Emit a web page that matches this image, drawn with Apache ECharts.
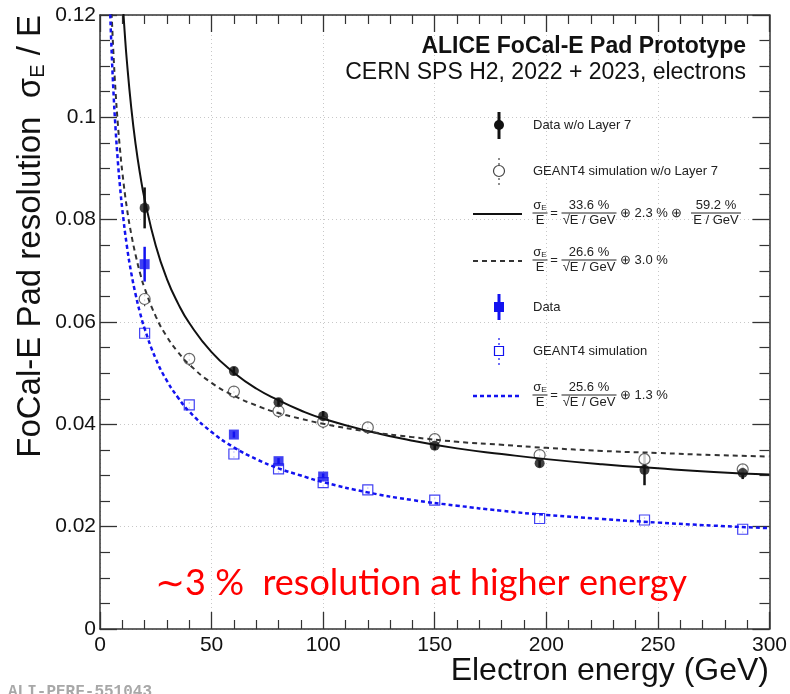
<!DOCTYPE html>
<html>
<head>
<meta charset="utf-8">
<title>FoCal-E resolution</title>
<script src="https://cdn.jsdelivr.net/npm/echarts@6.0.0/dist/echarts.min.js"></script>
<style>
    html, body { margin: 0; padding: 0; background: #fff; }
    #main { width: 790px; height: 694px; }
</style>
</head>
<body>
<div id="main"></div>
<script>
var dataEnergy = [20, 60, 80, 100, 150, 197, 244, 288];
var dataRes    = [0.0823, 0.0504, 0.0443, 0.0416, 0.0358, 0.0324, 0.0311, 0.0305];
var dataErr    = [0.0040, 0.0008, 0.0008, 0.0010, 0.0008, 0.0008, 0.0030, 0.0012];

var simEnergy  = [20, 40, 60, 80, 100, 120, 150, 197, 244, 288];
var simRes     = [0.0645, 0.0528, 0.0464, 0.0426, 0.0405, 0.0394, 0.0371, 0.0340, 0.0332, 0.0312];
var simErr     = [0.0014, 0.0014, 0.0013, 0.0013, 0.0013, 0.0013, 0.0013, 0.0013, 0.0013, 0.0013];

var blueDataEnergy = [20, 60, 80, 100];
var blueDataRes    = [0.0713, 0.0380, 0.0328, 0.0298];
var blueDataErr    = [0.0034, 0.0006, 0.0006, 0.0006];

var blueSimEnergy = [20, 40, 60, 80, 100, 120, 150, 197, 244, 288];
var blueSimRes    = [0.0578, 0.0438, 0.0342, 0.0313, 0.0286, 0.0272, 0.0252, 0.0216, 0.0213, 0.0195];
var blueSimErr    = [0.0008, 0.0008, 0.0008, 0.0008, 0.0008, 0.0008, 0.0008, 0.0008, 0.0008, 0.0008];

// fit curves, sampled off the figure
var fitDataE = [10.5, 11, 12, 14, 16, 18, 20, 25, 30, 35, 40, 50, 60, 70, 80, 90, 100, 120, 140, 160, 180, 200, 225, 250, 275, 300];
var fitDataY = [0.1203, 0.1170, 0.1112, 0.1019, 0.0946, 0.0888, 0.0840, 0.0749, 0.0684, 0.0636, 0.0598, 0.0541, 0.0501, 0.0470, 0.0447, 0.0427, 0.0411, 0.0387, 0.0368, 0.0353, 0.0342, 0.0332, 0.0322, 0.0314, 0.0307, 0.0302];

var fitSimE = [5.2, 6, 7, 8, 9, 10, 12, 14, 16, 18, 20, 25, 30, 35, 40, 50, 60, 70, 80, 90, 100, 120, 140, 160, 180, 200, 225, 250, 275, 300];
var fitSimY = [0.1204, 0.1127, 0.1049, 0.0987, 0.0936, 0.0893, 0.0824, 0.0772, 0.0730, 0.0695, 0.0666, 0.0611, 0.0571, 0.0541, 0.0517, 0.0481, 0.0456, 0.0437, 0.0422, 0.0411, 0.0401, 0.0386, 0.0375, 0.0366, 0.0360, 0.0354, 0.0348, 0.0344, 0.0340, 0.0337];

var fitBlueE = [4.6, 5, 6, 7, 8, 9, 10, 12, 14, 16, 18, 20, 25, 30, 35, 40, 50, 60, 70, 80, 90, 100, 120, 140, 160, 180, 200, 225, 250, 275, 300];
var fitBlueY = [0.1201, 0.1152, 0.1053, 0.0976, 0.0914, 0.0863, 0.0820, 0.0750, 0.0696, 0.0653, 0.0617, 0.0587, 0.0528, 0.0485, 0.0452, 0.0425, 0.0385, 0.0355, 0.0332, 0.0314, 0.0300, 0.0287, 0.0267, 0.0252, 0.0241, 0.0231, 0.0223, 0.0215, 0.0208, 0.0202, 0.0197];

var FONT = '"Liberation Sans", Arial, sans-serif';
var BLUE = '#1212f0';

function pairs(xs, ys) {
    return xs.map(function (x, i) { return [x, ys[i]]; });
}
function triples(xs, ys, es) {
    return xs.map(function (x, i) { return [x, ys[i], es[i]]; });
}

// vertical error bar through the axes
function errorBars(color, width, dash) {
    return function (params, api) {
        var x = api.value(0), y = api.value(1), e = api.value(2);
        var lo = api.coord([x, y - e]);
        var hi = api.coord([x, y + e]);
        return {
            type: 'line',
            shape: { x1: lo[0], y1: lo[1], x2: hi[0], y2: hi[1] },
            style: { stroke: color, lineWidth: width, lineDash: dash }
        };
    };
}

function txt(x, y, s, opts) {
    opts = opts || {};
    return {
        type: 'text', x: x, y: y, z: 100, rotation: opts.rotation || 0,
        style: {
            text: s,
            font: opts.font || ('13px ' + FONT),
            fill: opts.fill || '#222',
            align: opts.align || 'left',
            textAlign: opts.align || 'left',
            verticalAlign: opts.va || 'middle',
            textVerticalAlign: opts.va || 'middle',
            rich: opts.rich
        }
    };
}

function frac(cx, cy, num, den, w, numRich) {
    var f = '13px ' + FONT;
    return [
        txt(cx, cy - 1, num, { align: 'center', va: 'bottom', font: f, rich: numRich }),
        { type: 'line', z: 100, shape: { x1: cx - w / 2, y1: cy, x2: cx + w / 2, y2: cy }, style: { stroke: '#222', lineWidth: 1 } },
        txt(cx, cy + 1, den, { align: 'center', va: 'top', font: f })
    ];
}

var sigRich = {
    s: { fontSize: 13, fontFamily: 'Liberation Sans', fill: '#222' },
    sub: { fontSize: 8, fontFamily: 'Liberation Sans', fill: '#222', verticalAlign: 'bottom', padding: [6, 0, 0, 0] }
};

function formula(y, a, b, extra) {
    var els = [];
    els = els.concat(frac(540, y, '{s|σ}{sub|E}', 'E', 15, sigRich));
    els.push(txt(554, y, '=', { align: 'center' }));
    els = els.concat(frac(589, y, a, '√E / GeV', 55));
    els.push(txt(620, y, b));
    if (extra) {
        els = els.concat(frac(716, y, extra, 'E / GeV', 50));
    }
    return els;
}

var legendEls = [
    // Data w/o Layer 7
    { type: 'line', z: 100, shape: { x1: 499, y1: 112, x2: 499, y2: 139 }, style: { stroke: '#111', lineWidth: 3 } },
    { type: 'circle', z: 101, shape: { cx: 499, cy: 125, r: 5 }, style: { fill: '#111' } },
    txt(533, 125, 'Data w/o Layer 7'),
    // GEANT4 w/o Layer 7
    { type: 'line', z: 100, shape: { x1: 499, y1: 158, x2: 499, y2: 185 }, style: { stroke: '#444', lineWidth: 1.2, lineDash: [2, 3] } },
    { type: 'circle', z: 101, shape: { cx: 499, cy: 171, r: 5.5 }, style: { fill: '#fff', stroke: '#444', lineWidth: 1.2 } },
    txt(533, 171, 'GEANT4 simulation w/o Layer 7'),
    // solid fit
    { type: 'line', z: 100, shape: { x1: 473, y1: 214, x2: 522, y2: 214 }, style: { stroke: '#111', lineWidth: 2 } },
    // dashed fit
    { type: 'line', z: 100, shape: { x1: 473, y1: 261, x2: 522, y2: 261 }, style: { stroke: '#333', lineWidth: 2, lineDash: [5, 4] } },
    // Data
    { type: 'line', z: 100, shape: { x1: 499, y1: 294, x2: 499, y2: 320 }, style: { stroke: BLUE, lineWidth: 3 } },
    { type: 'rect', z: 101, shape: { x: 494, y: 302, width: 10, height: 10 }, style: { fill: BLUE } },
    txt(533, 307, 'Data'),
    // GEANT4 simulation
    { type: 'line', z: 100, shape: { x1: 499, y1: 338, x2: 499, y2: 365 }, style: { stroke: BLUE, lineWidth: 1.2, lineDash: [2, 3] } },
    { type: 'rect', z: 101, shape: { x: 494.5, y: 346.5, width: 9, height: 9 }, style: { fill: '#fff', stroke: BLUE, lineWidth: 1.2 } },
    txt(533, 351, 'GEANT4 simulation'),
    // blue dashed fit
    { type: 'line', z: 100, shape: { x1: 473, y1: 396, x2: 522, y2: 396 }, style: { stroke: BLUE, lineWidth: 2.5, lineDash: [4, 3] } }
]
    .concat(formula(213, '33.6 %', '⊕ 2.3 % ⊕', '59.2 %'))
    .concat(formula(260, '26.6 %', '⊕ 3.0 %'))
    .concat(formula(395, '25.6 %', '⊕ 1.3 %'));

var textEls = [
    txt(746, 47, 'ALICE FoCal-E Pad Prototype', { align: 'right', font: 'bold 23px ' + FONT, fill: '#111' }),
    txt(746, 73, 'CERN SPS H2, 2022 + 2023, electrons', { align: 'right', font: '23px ' + FONT, fill: '#111' }),
    txt(769, 671, 'Electron energy (GeV)', { align: 'right', font: '32px ' + FONT, fill: '#111' }),
    txt(31, 15, '{a|FoCal-E Pad resolution  σ}{b|E}{a| / E}', {
        align: 'right', rotation: Math.PI / 2, font: '33px ' + FONT, fill: '#111',
        rich: {
            a: { fontSize: 33, fontFamily: 'Liberation Sans', fill: '#111' },
            b: { fontSize: 20, fontFamily: 'Liberation Sans', fill: '#111', verticalAlign: 'bottom', padding: [15, 0, 0, 0] }
        }
    }),
    txt(421, 583, '∼3 %  resolution at higher energy', { align: 'center', font: '36px Lato, "Noto Sans", sans-serif', fill: '#ff0000' }),
    txt(8, 692, 'ALI-PERF-551043', { font: 'bold 16px "Liberation Mono", monospace', fill: '#a8a8a8' })
];

var chart = echarts.init(document.getElementById('main'));

var axisCommonX = {
    type: 'value', min: 0, max: 300, interval: 50,
    axisLine: { onZero: false, lineStyle: { color: '#333', width: 1.5 } },
    axisTick: { inside: true, length: 17, lineStyle: { color: '#333', width: 1.3 } },
    minorTick: { show: true, splitNumber: 5, length: 9, lineStyle: { color: '#333', width: 1.2 } }
};
var axisCommonY = {
    type: 'value', min: 0, max: 0.12, interval: 0.02,
    axisLine: { onZero: false, lineStyle: { color: '#333', width: 1.5 } },
    axisTick: { inside: true, length: 17, lineStyle: { color: '#333', width: 1.3 } },
    minorTick: { show: true, splitNumber: 4, length: 10, lineStyle: { color: '#333', width: 1.2 } }
};

var option = {
    animation: false,
    backgroundColor: '#fff',
    grid: { left: 100, right: 20, top: 15, bottom: 65 },
    xAxis: [
        $extend(axisCommonX, {
            position: 'bottom',
            axisLabel: { fontSize: 21, fontFamily: 'Liberation Sans', color: '#111', margin: 6 },
            splitLine: { show: true, lineStyle: { color: '#c8c8c8', type: [1, 3], width: 1 } }
        }),
        $extend(axisCommonX, {
            position: 'top',
            axisLabel: { show: false },
            splitLine: { show: false }
        })
    ],
    yAxis: [
        $extend(axisCommonY, {
            position: 'left',
            axisLabel: {
                fontSize: 21, fontFamily: 'Liberation Sans', color: '#111', margin: 4,
                formatter: function (v) { return v === 0 ? '0' : String(+v.toFixed(2)); }
            },
            splitLine: { show: true, lineStyle: { color: '#c8c8c8', type: [1, 3], width: 1 } }
        }),
        $extend(axisCommonY, {
            position: 'right',
            axisLabel: { show: false },
            splitLine: { show: false }
        })
    ],
    graphic: { elements: legendEls.concat(textEls) },
    series: [
        {
            type: 'line', name: 'fit data', data: pairs(fitDataE, fitDataY),
            showSymbol: false, smooth: true, clip: true,
            lineStyle: { color: '#111', width: 2 }
        },
        {
            type: 'line', name: 'fit sim', data: pairs(fitSimE, fitSimY),
            showSymbol: false, smooth: true, clip: true,
            lineStyle: { color: '#333', width: 2, type: [5, 4] }
        },
        {
            type: 'line', name: 'fit blue', data: pairs(fitBlueE, fitBlueY),
            showSymbol: false, smooth: true, clip: true,
            lineStyle: { color: BLUE, width: 2.5, type: [4, 3] }
        },
        {
            type: 'custom', data: triples(simEnergy, simRes, simErr),
            renderItem: errorBars('#444', 1.2, [2, 3]), encode: { x: 0, y: 1 }
        },
        {
            type: 'custom', data: triples(blueSimEnergy, blueSimRes, blueSimErr),
            renderItem: errorBars(BLUE, 1.2, [2, 3]), encode: { x: 0, y: 1 }
        },
        {
            type: 'custom', data: triples(dataEnergy, dataRes, dataErr),
            renderItem: errorBars('#111', 2.5, null), encode: { x: 0, y: 1 }
        },
        {
            type: 'custom', data: triples(blueDataEnergy, blueDataRes, blueDataErr),
            renderItem: errorBars(BLUE, 2.5, null), encode: { x: 0, y: 1 }
        },
        {
            type: 'scatter', data: pairs(simEnergy, simRes), symbol: 'circle', symbolSize: 11,
            itemStyle: { color: '#fff', borderColor: '#444', borderWidth: 1.2 }
        },
        {
            type: 'scatter', data: pairs(blueSimEnergy, blueSimRes), symbol: 'rect', symbolSize: 10,
            itemStyle: { color: '#fff', borderColor: BLUE, borderWidth: 1.2 }
        },
        {
            type: 'scatter', data: pairs(dataEnergy, dataRes), symbol: 'circle', symbolSize: 10,
            itemStyle: { color: '#111' }
        },
        {
            type: 'scatter', data: pairs(blueDataEnergy, blueDataRes), symbol: 'rect', symbolSize: 10,
            itemStyle: { color: BLUE }
        }
    ]
};

function $extend(a, b) {
    var o = {};
    for (var k in a) o[k] = a[k];
    for (var j in b) o[j] = b[j];
    return o;
}

chart.setOption(option);
</script>
</body>
</html>
